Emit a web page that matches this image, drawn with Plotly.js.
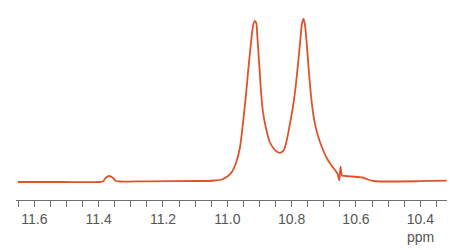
<!DOCTYPE html>
<html>
<head>
<meta charset="utf-8">
<script src="https://cdn.plot.ly/plotly-3.0.1.min.js"></script>
<style>html,body{margin:0;padding:0;background:#fff;}#chart{width:467px;height:250px;}</style>
</head>
<body>
<div id="chart"></div>
<script>
// chemical shift (ppm)
const ppm = [11.651, 11.520, 11.396, 11.387, 11.377, 11.367, 11.357, 11.346, 11.334, 11.241,
  11.085, 11.039, 11.017, 10.998, 10.986, 10.974, 10.961, 10.952, 10.942, 10.935,
  10.928, 10.922, 10.918, 10.914, 10.910, 10.907, 10.902, 10.896, 10.890, 10.880,
  10.868, 10.855, 10.843, 10.834, 10.824, 10.815, 10.806, 10.796, 10.787, 10.779,
  10.773, 10.768, 10.763, 10.759, 10.754, 10.748, 10.740, 10.731, 10.719, 10.706,
  10.691, 10.675, 10.663, 10.657, 10.652, 10.648, 10.643, 10.632, 10.613, 10.594,
  10.579, 10.563, 10.545, 10.510, 10.402, 10.318];
// signal intensity (arbitrary units)
const intensity = [0, 0, 0, 0.5, 4.5, 6, 4.5, 1, 0.5, 0.7,
  1, 1.5, 2.5, 6, 10, 18, 34, 57, 87, 112,
  134, 152, 159, 161, 159, 147, 124, 94, 72, 54,
  40, 33, 29.7, 29.3, 32, 42, 57, 75, 97, 122,
  142, 158, 163, 158, 142, 117, 87, 64, 47, 35,
  24, 16, 11, 8, 1.5, 15.3, 6.5, 6, 5.5, 5,
  4.5, 2.5, 1, 0.5, 0.8, 1.3];
const tickVals = [11.6, 11.4, 11.2, 11.0, 10.8, 10.6, 10.4];
const tickText = ['11.6', '11.4', '11.2', '11.0', '10.8', '10.6', '10.4'];
const axisLabel = 'ppm';

const trace = {
  x: ppm, y: intensity, type: 'scatter', mode: 'lines',
  line: {color: '#E0522A', width: 1.8, shape: 'spline', smoothing: 0.8},
  hoverinfo: 'skip'
};
const layout = {
  width: 467, height: 250,
  margin: {l: 16, r: 20, t: 10, b: 50},
  paper_bgcolor: '#ffffff', plot_bgcolor: '#ffffff',
  showlegend: false,
  font: {family: 'Liberation Sans, Arial, sans-serif', color: '#555555'},
  xaxis: {
    range: [11.657, 10.317], autorange: false,
    showgrid: false, zeroline: false,
    showline: true, linecolor: '#707070', linewidth: 1,
    ticks: 'outside', ticklen: 6, tickcolor: '#707070', tickwidth: 1,
    tickmode: 'array', tickvals: tickVals, ticktext: tickText,
    tickfont: {size: 14, color: '#555555'},
    minor: {dtick: 0.05, tick0: 0, ticks: 'outside', ticklen: 6, tickcolor: '#707070', tickwidth: 1, showgrid: false}
  },
  yaxis: {range: [-18, 172], visible: false, showgrid: false, zeroline: false},
  annotations: [{
    x: 10.4, y: 0, xref: 'x', yref: 'paper', yshift: -27,
    text: axisLabel, showarrow: false, xanchor: 'center', yanchor: 'top',
    font: {size: 14, color: '#555555'}
  }]
};
Plotly.newPlot('chart', [trace], layout, {staticPlot: true, displayModeBar: false});
</script>
</body>
</html>
